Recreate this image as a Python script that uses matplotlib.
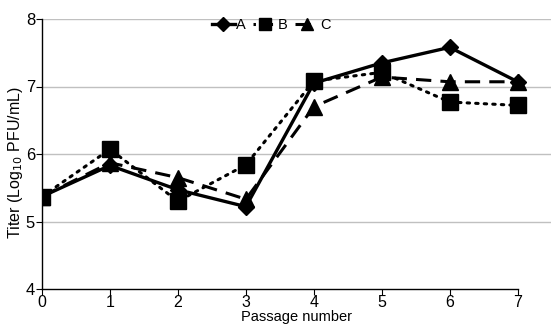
import matplotlib
matplotlib.use("Agg")
import matplotlib.pyplot as plt
from matplotlib.lines import Line2D

plt.rcParams['font.family'] = ['Liberation Sans', 'DejaVu Sans']

passages = [0, 1, 2, 3, 4, 5, 6, 7]
series_a = [5.37, 5.83, 5.47, 5.22, 7.05, 7.35, 7.58, 7.07]
series_b = [5.37, 6.07, 5.30, 5.84, 7.08, 7.21, 6.77, 6.72]
series_c = [5.37, 5.87, 5.65, 5.33, 6.70, 7.14, 7.07, 7.07]
labels = ["A", "B", "C"]
y_ticks = [4, 5, 6, 7, 8]

fig = plt.figure(figsize=(5.51, 3.24), dpi=100)
ax = fig.add_axes([42/551, 35/324, 509/551, 270/324])

for yv in y_ticks[1:]:
    ax.axhline(yv, color='#c0c0c0', lw=1.0, zorder=0)

ax.plot(passages, series_a, color='black', lw=2.4, ls='-', marker='D', ms=8.5, zorder=3)
ax.plot(passages, series_b, color='black', lw=2.2, ls=(0, (0.8, 2.0)), marker='s', ms=11, zorder=2,
        dash_capstyle='round')
ax.plot(passages, series_c, color='black', lw=2.2, ls=(0, (5, 3)), marker='^', ms=11, zorder=2)

ax.set_xlim(0, 7.49)
ax.set_ylim(4, 8)
ax.set_xticks(passages)
ax.set_yticks(y_ticks)
ax.spines['top'].set_visible(False)
ax.spines['right'].set_visible(False)
ax.spines['bottom'].set_bounds(0, 7)
ax.spines['left'].set_linewidth(1.0)
ax.spines['bottom'].set_linewidth(1.0)
ax.tick_params(axis='x', direction='out', length=4, labelsize=11.5, pad=0)
ax.tick_params(axis='y', direction='out', length=4, labelsize=12, pad=1)
ax.set_xlabel("Passage number", fontsize=10.5, labelpad=0)
ax.set_ylabel("Titer (Log$_{10}$ PFU/mL)", fontsize=11.5)
ax.yaxis.set_label_coords(-0.033, 0.47)

handles = [
    Line2D([], [], color='black', lw=2.4, ls='-', marker='D', ms=7),
    Line2D([], [], color='black', lw=2.2, ls=(0, (0.8, 2.0)), marker='s', ms=8),
    Line2D([], [], color='black', lw=2.2, ls=(0, (5, 3)), marker='^', ms=8),
]
ax.legend(handles, labels, loc='upper center', bbox_to_anchor=(0.45, 1.005), ncol=3, frameon=False,
          fontsize=10.5, handlelength=1.6, handletextpad=0.1, columnspacing=0.5,
          borderaxespad=0.0, borderpad=0.0)

fig.savefig("out.png", dpi=100)
